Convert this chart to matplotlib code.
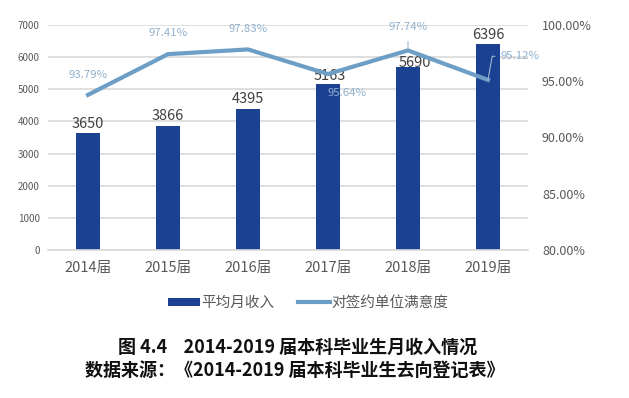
import matplotlib
matplotlib.use("Agg")
import matplotlib.pyplot as plt
from matplotlib.ticker import FuncFormatter

plt.rcParams['font.family'] = ['Noto Sans CJK SC', 'DejaVu Sans']

categories = ["2014届", "2015届", "2016届", "2017届", "2018届", "2019届"]
income = [3650, 3866, 4395, 5163, 5690, 6396]
satisfaction = [93.79, 97.41, 97.83, 95.64, 97.74, 95.12]
bar_name = "平均月收入"
line_name = "对签约单位满意度"
title1 = "图 4.4    2014-2019 届本科毕业生月收入情况"
title2 = "数据来源：《2014-2019 届本科毕业生去向登记表》"

W, H = 629, 398
fig = plt.figure(figsize=(W / 100, H / 100), dpi=100)
ax = fig.add_axes([48 / W, 1 - 250 / H, 480 / W, 225 / H])
ax2 = ax.twinx()

bar_color = "#1b4193"
line_color = "#6d9ec6"
lbl_color = "#8fb0cc"
tick_color = "#595959"
grid_color = "#d9d9d9"

x = list(range(len(categories)))
ax.bar(x, income, width=0.3, color=bar_color, zorder=2, label=bar_name)
ax.set_xlim(-0.5, len(categories) - 0.5)
ax.set_ylim(0, 7000)
ax.set_yticks(range(0, 7001, 1000))
ax.yaxis.grid(True, color=grid_color, linewidth=1.2, zorder=0)
ax.set_axisbelow(True)
for s in ["top", "right", "left"]:
    ax.spines[s].set_visible(False)
ax.spines["bottom"].set_color(grid_color)
ax.spines["bottom"].set_linewidth(1.2)
ax.tick_params(axis="y", length=0, labelsize=7, labelcolor=tick_color, pad=6)
ax.tick_params(axis="x", length=0, labelsize=10.5, labelcolor=tick_color, pad=8)
ax.set_xticks(x)
ax.set_xticklabels(categories)

# bar value labels
bar_offsets = [(0, 1), (0, 2), (0, 2), (1, 1), (5, -2), (0, 2)]
for xi, v, (dx, dy) in zip(x, income, bar_offsets):
    ax.annotate(str(v), (xi, v), xytext=(dx, dy), textcoords="offset points",
                ha="center", va="bottom", fontsize=10.5, color="#404040")

ax2.plot(x, satisfaction, color=line_color, linewidth=3, zorder=3,
         solid_joinstyle="miter", label=line_name)
ax2.set_ylim(80, 100)
ax2.set_yticks([80, 85, 90, 95, 100])
ax2.yaxis.set_major_formatter(FuncFormatter(lambda v, p: f"{v:.2f}%"))
for s in ["top", "right", "left", "bottom"]:
    ax2.spines[s].set_visible(False)
ax2.tick_params(axis="y", length=0, labelsize=9, labelcolor=tick_color, pad=10)

# percent labels (offsets in points)
pct_offsets = [(0, 14), (0, 15), (0, 15), (14, -14), (0, 17), (25, 16)]
for i, (xi, v, (dx, dy)) in enumerate(zip(x, satisfaction, pct_offsets)):
    txt = f"{v:.2f}%"
    if i == 4:
        ax2.annotate(txt, (xi, v), xytext=(dx, dy), textcoords="offset points",
                     ha="center", va="center", fontsize=8.2, color=lbl_color,
                     arrowprops=dict(arrowstyle="-", color="#9fb8cf", lw=0.8,
                                     shrinkA=5, shrinkB=1))
    elif i == 5:
        ax2.annotate(txt, (xi, v), xytext=(9, 17), textcoords="offset points",
                     ha="left", va="center", fontsize=8.2, color=lbl_color,
                     arrowprops=dict(arrowstyle="-", color="#9fb8cf", lw=0.8,
                                     shrinkA=2, shrinkB=0,
                                     connectionstyle="angle,angleA=0,angleB=80,rad=0"))
    else:
        ax2.annotate(txt, (xi, v), xytext=(dx, dy), textcoords="offset points",
                     ha="center", va="center", fontsize=8.2, color=lbl_color)

h1, l1 = ax.get_legend_handles_labels()
h2, l2 = ax2.get_legend_handles_labels()
fig.legend(h1 + h2, l1 + l2, loc="center", bbox_to_anchor=(308 / W, 1 - 303 / H),
           ncol=2, frameon=False, fontsize=10.5, labelcolor=tick_color,
           handlelength=2.2, handleheight=0.45, columnspacing=1.6, handletextpad=0.1)

fig.text(298 / W, 1 - 347 / H, title1, ha="center", va="center",
         fontsize=13, fontweight="bold", color="#111111")
fig.text(295 / W, 1 - 370 / H, title2, ha="center", va="center",
         fontsize=13, fontweight="bold", color="#111111")

fig.savefig("out.png", dpi=100)
